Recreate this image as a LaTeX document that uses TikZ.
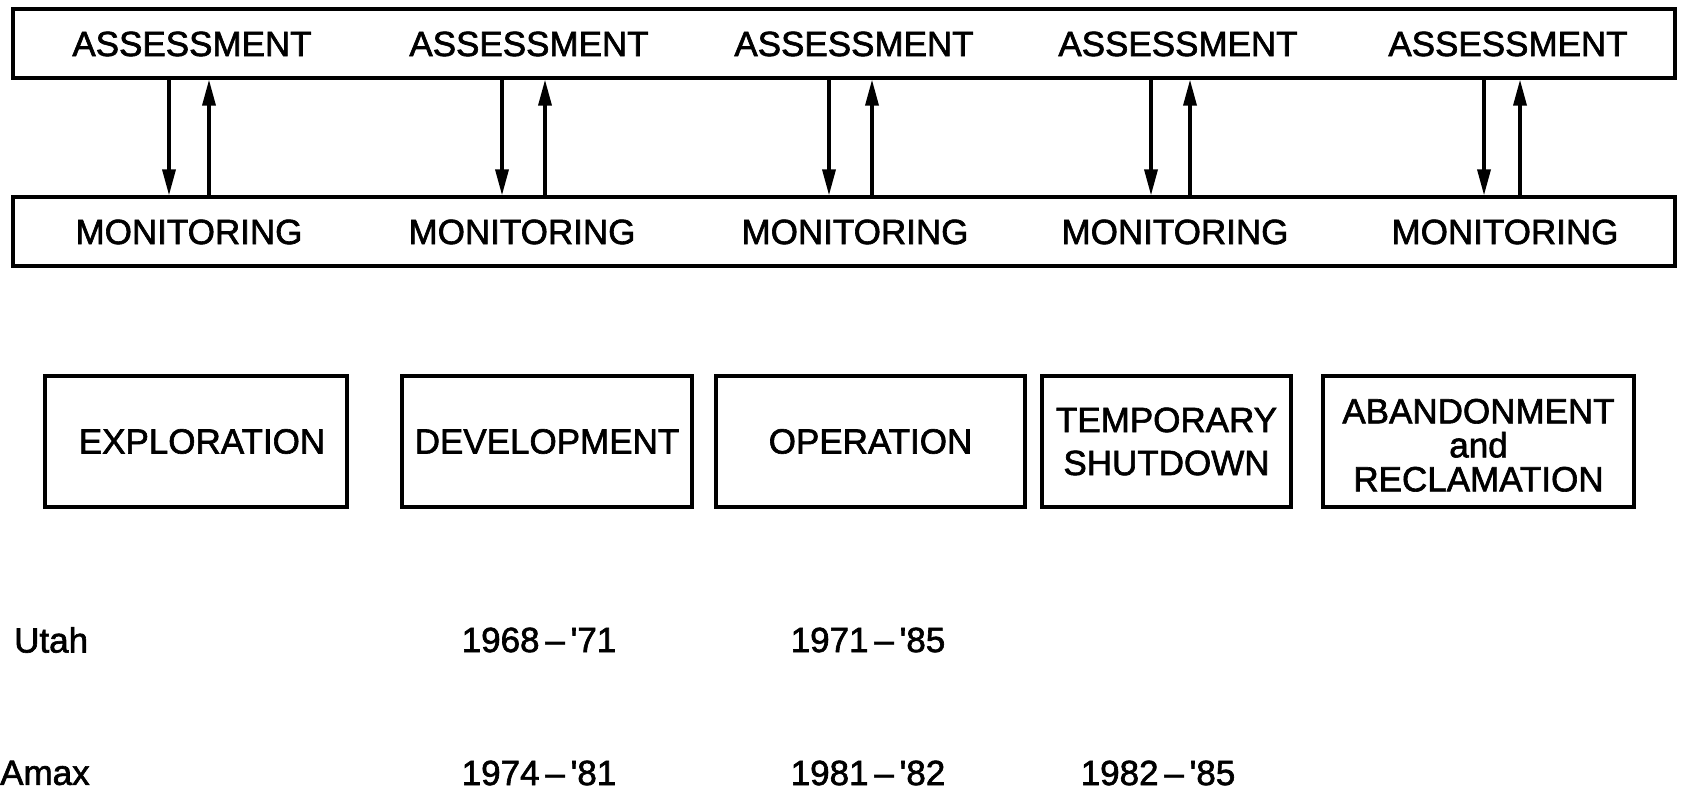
\documentclass[tikz,border=0pt]{standalone}
\usepackage{fontspec}
\setmainfont{Liberation Sans}
\usetikzlibrary{arrows.meta}
\newcommand{\lfont}[1]{\fontsize{#1}{#1}\selectfont\addfontfeature{FakeBold=1.8}}
\tikzset{
  bar/.style={draw,line width=3.2pt,minimum width=1662pt,minimum height=69pt,inner sep=0pt},
  lbl/.style={font=\lfont{35},inner sep=0pt},
  phase/.style={draw,line width=3.2pt,minimum height=131pt,inner sep=0pt,align=center,font=\lfont{35}},
  flow/.style={draw,line width=3.4pt,-{Triangle[length=26pt,width=13pt]}}
}
\begin{document}
\begin{tikzpicture}[x=1pt,y=-1pt]
\useasboundingbox (0,0) rectangle (1684,794);
\fill[white] (0,0) rectangle (1684,794);
% long bars
\node[bar] (ab) at (844,43.5) {};
\node[bar] (mb) at (844,231.5) {};
% assessment labels
\node[lbl] (as1) at (192,44) {ASSESSMENT};
\node[lbl] (as2) at (529,44) {ASSESSMENT};
\node[lbl] (as3) at (854,44) {ASSESSMENT};
\node[lbl] (as4) at (1178,44) {ASSESSMENT};
\node[lbl] (as5) at (1508,44) {ASSESSMENT};
% monitoring labels
\node[lbl] (mo1) at (189,232) {MONITORING};
\node[lbl] (mo2) at (522,232) {MONITORING};
\node[lbl] (mo3) at (855,232) {MONITORING};
\node[lbl] (mo4) at (1175,232) {MONITORING};
\node[lbl] (mo5) at (1505,232) {MONITORING};
% arrow positions
\coordinate (d1) at (169,0);  \coordinate (u1) at (209,0);
\coordinate (d2) at (502,0);  \coordinate (u2) at (545,0);
\coordinate (d3) at (829,0);  \coordinate (u3) at (872,0);
\coordinate (d4) at (1151,0); \coordinate (u4) at (1190,0);
\coordinate (d5) at (1484,0); \coordinate (u5) at (1520,0);
\draw[flow] (ab.south -| d1) -- (mb.north -| d1);
\draw[flow] (mb.north -| u1) -- (ab.south -| u1);
\draw[flow] (ab.south -| d2) -- (mb.north -| d2);
\draw[flow] (mb.north -| u2) -- (ab.south -| u2);
\draw[flow] (ab.south -| d3) -- (mb.north -| d3);
\draw[flow] (mb.north -| u3) -- (ab.south -| u3);
\draw[flow] (ab.south -| d4) -- (mb.north -| d4);
\draw[flow] (mb.north -| u4) -- (ab.south -| u4);
\draw[flow] (ab.south -| d5) -- (mb.north -| d5);
\draw[flow] (mb.north -| u5) -- (ab.south -| u5);
% phase boxes
\node[phase,minimum width=302pt] (ex) at (196,441.5) {\hspace*{12pt}EXPLORATION};
\node[phase,minimum width=290pt] (dv) at (547,441.5) {DEVELOPMENT};
\node[phase,minimum width=309pt] (op) at (870.5,441.5) {OPERATION};
\node[phase,minimum width=249pt] (ts) at (1166.5,441.5) {TEMPORARY\\[8pt]SHUTDOWN};
\node[phase,minimum width=311pt] (ar) at (1478.5,441.5) {\rule{0pt}{32pt}ABANDONMENT\\[-1pt]and\\[-1pt]RECLAMATION};
% rows
\node[lbl,anchor=west] (utah) at (14,640) {Utah};
\node[lbl] (u68) at (539,640) {1968\,–\,\textquotesingle 71};
\node[lbl] (u71) at (868,640) {1971\,–\,\textquotesingle 85};
\node[lbl,anchor=west] (amax) at (0,773) {Amax};
\node[lbl] (a74) at (539,773) {1974\,–\,\textquotesingle 81};
\node[lbl] (a81) at (868,773) {1981\,–\,\textquotesingle 82};
\node[lbl] (a82) at (1158,773) {1982\,–\,\textquotesingle 85};
\end{tikzpicture}
\end{document}
